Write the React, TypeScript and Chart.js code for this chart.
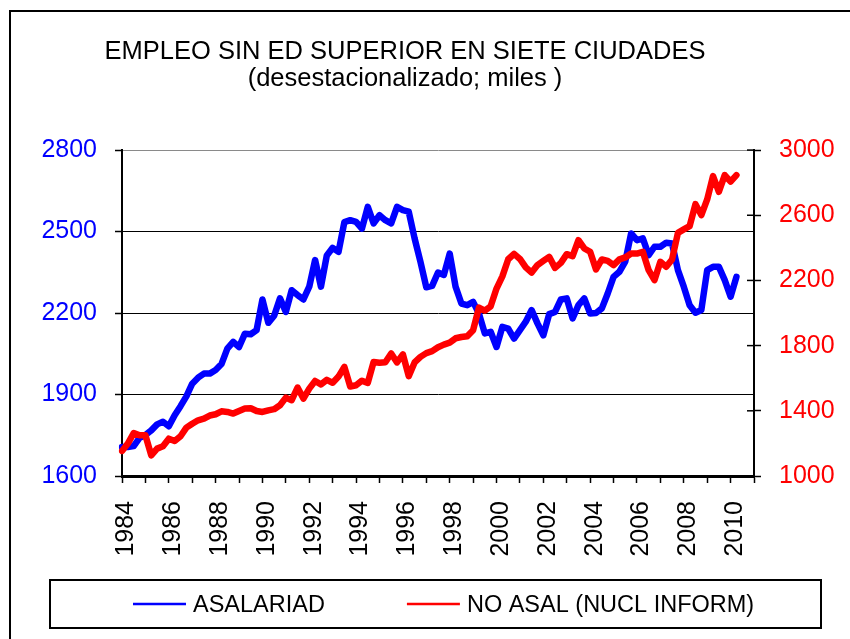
import React, { useEffect, useRef } from 'react';
import { Chart, registerables } from 'chart.js';

Chart.register(...registerables);

const FONT_FAMILY = '"Liberation Sans", Arial, Helvetica, sans-serif';

const TITLE_LINES = ['EMPLEO SIN ED SUPERIOR EN SIETE CIUDADES', '(desestacionalizado; miles )'];
const SERIES_NAMES = ['ASALARIAD', 'NO ASAL (NUCL INFORM)'];
const SERIES_COLORS = ['#0000FF', '#FF0000'];

const YEARS = [
  1984, 1985, 1986, 1987, 1988, 1989, 1990, 1991, 1992, 1993, 1994, 1995, 1996, 1997,
  1998, 1999, 2000, 2001, 2002, 2003, 2004, 2005, 2006, 2007, 2008, 2009, 2010, 2011,
];
const QUARTERS = ['I', 'II', 'III', 'IV'];
const CATEGORY_COUNT = 109; // 1984-I .. 2011-I
const CATEGORIES = YEARS.flatMap((y) => QUARTERS.map((q) => `${y}-${q}`)).slice(0, CATEGORY_COUNT);
const LABEL_EVERY = 8;
const TICK_EVERY = 4;

const LEFT_TICKS = [1600, 1900, 2200, 2500, 2800];
const RIGHT_TICKS = [1000, 1400, 1800, 2200, 2600, 3000];

// Asalariados (left axis), quarterly from 1984-I
const ASALARIADOS = [
  1707, 1707, 1710, 1740, 1751, 1768, 1790, 1800, 1783, 1824,
  1857, 1893, 1940, 1962, 1977, 1977, 1990, 2012, 2069, 2094,
  2075, 2124, 2122, 2137, 2250, 2164, 2190, 2254, 2204, 2284,
  2266, 2250, 2297, 2395, 2297, 2412, 2440, 2425, 2535, 2542,
  2536, 2511, 2591, 2530, 2560, 2542, 2530, 2591, 2579, 2573,
  2475, 2389, 2295, 2300, 2349, 2340, 2419, 2297, 2235, 2229,
  2241, 2198, 2125, 2131, 2075, 2149, 2143, 2106, 2137, 2168,
  2211, 2162, 2118, 2196, 2204, 2250, 2254, 2180, 2229, 2254,
  2198, 2200, 2217, 2272, 2333, 2352, 2389, 2493, 2468, 2475,
  2413, 2444, 2444, 2459, 2456, 2358, 2297, 2229, 2201, 2211,
  2358, 2370, 2370, 2321, 2260, 2333,
];

// No asalariados (right axis), quarterly from 1984-I
const NO_ASALARIADOS = [
  1154, 1199, 1264, 1250, 1250, 1127, 1168, 1182, 1229, 1215,
  1244, 1297, 1321, 1342, 1352, 1371, 1379, 1397, 1393, 1383,
  1399, 1414, 1416, 1399, 1393, 1403, 1410, 1434, 1481, 1465,
  1543, 1475, 1536, 1583, 1562, 1590, 1572, 1610, 1670, 1549,
  1557, 1585, 1571, 1700, 1695, 1698, 1752, 1697, 1746, 1613,
  1697, 1731, 1754, 1766, 1790, 1806, 1818, 1845, 1853, 1858,
  1895, 2033, 2015, 2041, 2150, 2225, 2330, 2363, 2332, 2280,
  2248, 2294, 2320, 2345, 2277, 2308, 2361, 2349, 2447, 2396,
  2376, 2268, 2329, 2320, 2294, 2329, 2341, 2365, 2365, 2376,
  2263, 2202, 2314, 2284, 2329, 2492, 2513, 2533, 2668, 2601,
  2697, 2840, 2744, 2846, 2806, 2846,
];

const decorPlugin = {
  id: 'decor',
  beforeDraw(chart: any) {
    const ctx = chart.ctx;
    ctx.save();
    ctx.fillStyle = '#ffffff';
    ctx.fillRect(0, 0, chart.width, chart.height);
    ctx.restore();
  },
  afterDraw(chart: any) {
    const ctx = chart.ctx;
    const area = chart.chartArea;
    ctx.save();
    // inner half of the right-axis cross tick marks
    const y2 = chart.scales.y2;
    ctx.strokeStyle = '#000';
    ctx.lineWidth = 1.5;
    RIGHT_TICKS.forEach((v) => {
      const py = y2.getPixelForValue(v);
      ctx.beginPath();
      ctx.moveTo(area.right - 7, py);
      ctx.lineTo(area.right, py);
      ctx.stroke();
    });
    // outer frame (partly outside the picture)
    ctx.lineWidth = 2;
    ctx.strokeRect(10, 11, 900, 700);
    // legend box
    ctx.lineWidth = 2;
    ctx.strokeRect(50, 580, 771, 48);
    ctx.font = `23.5px ${FONT_FAMILY}`;
    ctx.textBaseline = 'middle';
    ctx.textAlign = 'left';
    let x = 133;
    const ly = 604;
    chart.data.datasets.forEach((ds: any) => {
      ctx.strokeStyle = ds.borderColor;
      ctx.lineWidth = 2.5;
      ctx.beginPath();
      ctx.moveTo(x, ly);
      ctx.lineTo(x + 53, ly);
      ctx.stroke();
      ctx.fillStyle = '#000';
      ctx.fillText(ds.label, x + 60, ly + 1.5);
      x += 60 + ctx.measureText(ds.label).width + 82;
    });
    ctx.restore();
  },
};

export default function App() {
  const canvasRef = useRef<HTMLCanvasElement | null>(null);

  useEffect(() => {
    const canvas = canvasRef.current;
    if (!canvas) return;
    const chart = new Chart(canvas, {
      type: 'line',
      data: {
        labels: CATEGORIES,
        datasets: [
          {
            label: SERIES_NAMES[0],
            data: ASALARIADOS,
            yAxisID: 'y',
            borderColor: SERIES_COLORS[0],
            backgroundColor: SERIES_COLORS[0],
            borderWidth: 6.5,
            pointRadius: 0,
            tension: 0,
            borderJoinStyle: 'round',
            borderCapStyle: 'round',
            fill: false,
            order: 1,
          },
          {
            label: SERIES_NAMES[1],
            data: NO_ASALARIADOS,
            yAxisID: 'y2',
            borderColor: SERIES_COLORS[1],
            backgroundColor: SERIES_COLORS[1],
            borderWidth: 6.5,
            pointRadius: 0,
            tension: 0,
            borderJoinStyle: 'round',
            borderCapStyle: 'round',
            fill: false,
            order: 0,
          },
        ],
      },
      options: {
        responsive: false,
        maintainAspectRatio: false,
        devicePixelRatio: 1,
        animation: false,
        events: [],
        layout: { padding: { left: -40, right: 0, top: 0, bottom: 0 } },
        plugins: {
          legend: { display: false },
          tooltip: { enabled: false },
          title: {
            display: true,
            text: TITLE_LINES,
            color: '#000',
            align: 'center',
            fullSize: true,
            font: { family: FONT_FAMILY, size: 25.5, weight: 'normal', lineHeight: 1.06 },
            padding: { top: 38.5, bottom: 57.5 },
          },
        },
        scales: {
          x: {
            type: 'category',
            offset: false,
            afterFit: (scale: any) => {
              scale.height = 163;
            },
            grid: {
              display: true,
              drawOnChartArea: false,
              drawTicks: true,
              tickLength: 7,
              tickWidth: 1.5,
              tickColor: (ctx: any) => (ctx.index % TICK_EVERY === 0 ? '#000' : 'rgba(0,0,0,0)'),
              offset: false,
            },
            border: { display: true, color: '#000', width: 3 },
            ticks: {
              autoSkip: false,
              maxRotation: 90,
              minRotation: 90,
              padding: 18,
              labelOffset: 4.5,
              color: '#000',
              font: { family: FONT_FAMILY, size: 25 },
              callback: (_v: any, i: number) => (i % LABEL_EVERY === 0 ? CATEGORIES[i].slice(0, 4) : ''),
            },
          },
          y: {
            type: 'linear',
            position: 'left',
            min: LEFT_TICKS[0],
            max: LEFT_TICKS[LEFT_TICKS.length - 1],
            afterFit: (scale: any) => {
              scale.width = 162;
            },
            grid: {
              display: true,
              drawOnChartArea: true,
              color: (ctx: any) => (ctx.tick && ctx.tick.value === LEFT_TICKS[LEFT_TICKS.length - 1] ? '#8a8a8a' : '#000'),
              lineWidth: 1,
              tickLength: 7,
              tickWidth: 1.5,
              tickColor: '#000',
            },
            border: { display: true, color: '#000', width: 2 },
            ticks: {
              stepSize: LEFT_TICKS[1] - LEFT_TICKS[0],
              padding: 18,
              color: SERIES_COLORS[0],
              font: { family: FONT_FAMILY, size: 25 },
              callback: (v: any) => String(v),
            },
          },
          y2: {
            type: 'linear',
            position: 'right',
            min: RIGHT_TICKS[0],
            max: RIGHT_TICKS[RIGHT_TICKS.length - 1],
            afterFit: (scale: any) => {
              scale.width = 96;
            },
            grid: {
              display: true,
              drawOnChartArea: false,
              tickLength: 7,
              tickWidth: 1.5,
              tickColor: '#000',
            },
            border: { display: true, color: '#000', width: 2 },
            ticks: {
              stepSize: RIGHT_TICKS[1] - RIGHT_TICKS[0],
              padding: 18,
              color: SERIES_COLORS[1],
              font: { family: FONT_FAMILY, size: 25 },
              callback: (v: any) => String(v),
            },
          },
        },
      },
      plugins: [decorPlugin],
    } as any);
    return () => chart.destroy();
  }, []);

  return (
    <div style={{ position: 'absolute', left: 0, top: 0, width: 850, height: 639, background: '#fff' }}>
      <canvas ref={canvasRef} width={850} height={639} style={{ display: 'block', width: 850, height: 639 }} />
    </div>
  );
}
